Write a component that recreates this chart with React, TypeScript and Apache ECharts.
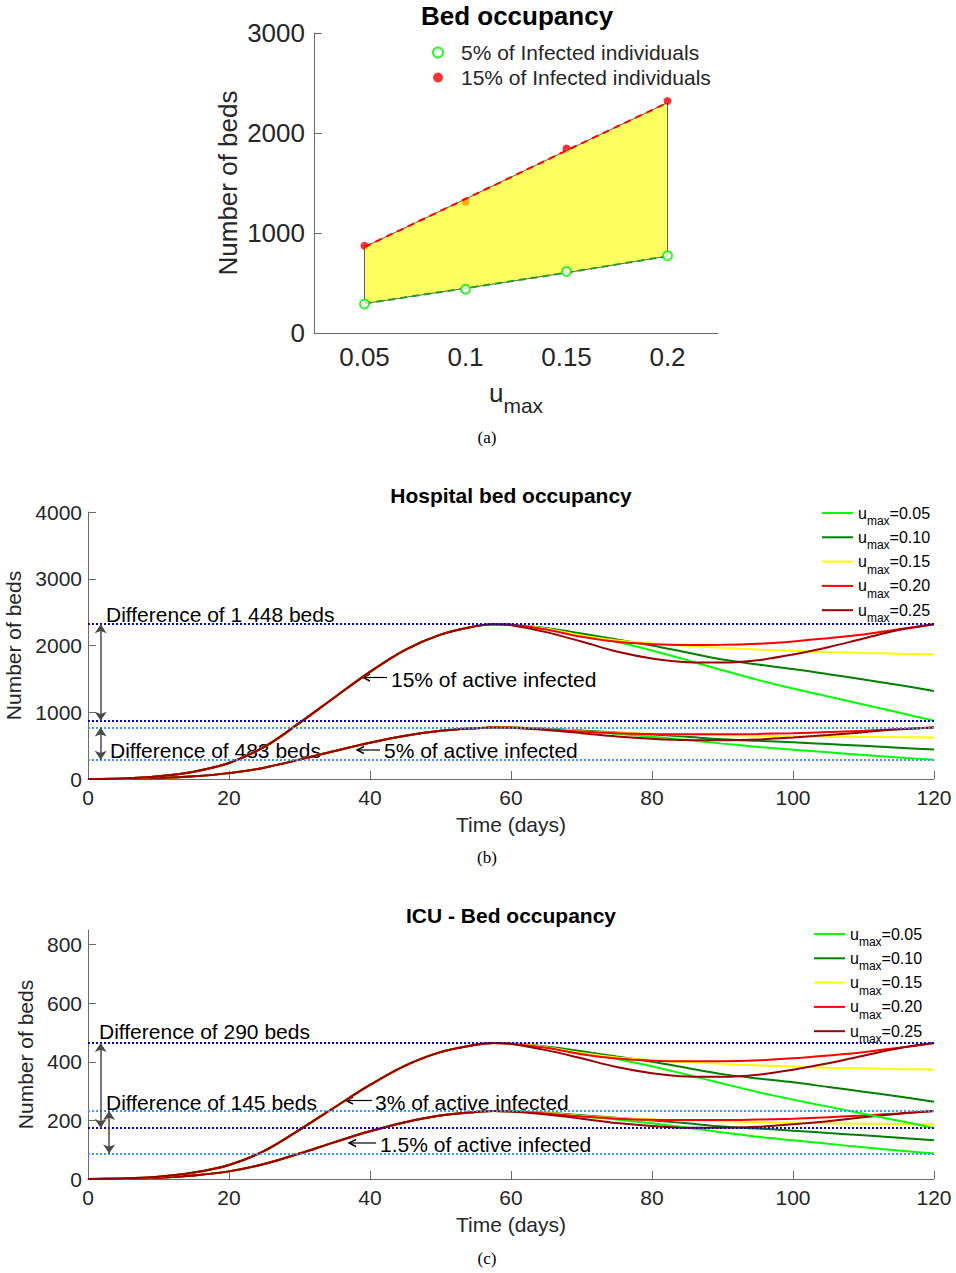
import React, { useEffect, useRef } from "react";
import * as echarts from "echarts";

const FONT = "Liberation Sans, Arial, Helvetica, sans-serif";
const SERIF = "Liberation Serif, DejaVu Serif, Times New Roman, serif";

// ---------- Panel (a): bed occupancy vs u_max ----------
const umaxValues = [0.05, 0.1, 0.15, 0.2];
const beds5Pct = [290, 437, 615, 773];
const beds15Pct = [872, 1311, 1845, 2320];
const fitUpper15 = [860, 1340, 1825, 2303];
const fitLower5 = [295, 447, 603, 768];
const umaxTicks = [0.05, 0.1, 0.15, 0.2];

// ---------- Panels (b) and (c): time courses ----------
const days = [0, 5, 10, 15, 20, 25, 30, 35, 40, 45, 50, 55, 57.5, 60, 65, 70, 75, 80, 85, 90, 95, 100, 105, 110, 115, 120];
const umaxNames = ["u_max=0.05", "u_max=0.10", "u_max=0.15", "u_max=0.20", "u_max=0.25"];
const umaxColors = ["#00ff00", "#007f00", "#ffff00", "#ff0000", "#990000"];

// shared rising part (t = 0 .. 57.5)
const hospRise15 = [0, 8, 40, 110, 240, 480, 840, 1225, 1605, 1935, 2163, 2290, 2320];
const hospRise5 = [0, 3, 14, 40, 88, 170, 290, 420, 543, 648, 722, 762, 773];
const icuRise3 = [0, 2, 8, 22, 48, 96, 168, 245, 321, 387, 433, 458, 464];
const icuRise15 = [0, 1, 4, 12, 26, 51, 87, 126, 163, 194, 217, 229, 232];

// tails (t = 60 .. 120), one per u_max
const hosp15Tail005 = [2312, 2252, 2168, 2055, 1925, 1780, 1630, 1485, 1355, 1235, 1115, 995, 872];
const hosp15Tail010 = [2314, 2262, 2180, 2090, 2000, 1895, 1790, 1715, 1648, 1570, 1490, 1408, 1320];
const hosp15Tail015 = [2314, 2250, 2150, 2075, 2030, 1995, 1965, 1940, 1920, 1902, 1888, 1877, 1868];
const hosp15Tail020 = [2312, 2240, 2130, 2055, 2020, 2008, 2010, 2025, 2060, 2110, 2165, 2242, 2320];
const hosp15Tail025 = [2305, 2200, 2060, 1910, 1805, 1750, 1745, 1780, 1865, 1975, 2105, 2232, 2320];

const hosp5Tail005 = [771, 748, 718, 677, 633, 583, 530, 480, 440, 400, 360, 322, 290];
const hosp5Tail010 = [771, 754, 727, 697, 667, 632, 597, 572, 549, 523, 497, 469, 442];
const hosp5Tail015 = [771, 750, 717, 692, 677, 665, 655, 647, 640, 634, 629, 626, 622];
const hosp5Tail020 = [771, 747, 710, 685, 673, 669, 670, 675, 687, 703, 722, 747, 773];
const hosp5Tail025 = [768, 733, 687, 637, 602, 583, 582, 593, 622, 658, 702, 744, 773];

const icu3Tail005 = [462, 450, 433, 410, 385, 356, 326, 297, 271, 247, 223, 199, 174];
const icu3Tail010 = [463, 452, 436, 418, 400, 379, 358, 343, 330, 314, 298, 282, 264];
const icu3Tail015 = [463, 450, 430, 415, 406, 399, 393, 388, 384, 380, 378, 375, 374];
const icu3Tail020 = [462, 448, 426, 411, 404, 402, 402, 405, 412, 422, 433, 448, 464];
const icu3Tail025 = [461, 440, 412, 382, 361, 350, 349, 356, 373, 395, 421, 446, 464];

const icu15Tail005 = [231, 224, 215, 203, 190, 175, 159, 144, 132, 120, 108, 97, 87];
const icu15Tail010 = [231, 226, 218, 209, 200, 190, 179, 172, 165, 157, 149, 141, 132];
const icu15Tail015 = [231, 225, 215, 208, 203, 200, 197, 194, 192, 190, 189, 188, 187];
const icu15Tail020 = [231, 224, 213, 206, 202, 201, 201, 203, 206, 211, 217, 224, 232];
const icu15Tail025 = [230, 220, 206, 191, 181, 175, 175, 178, 187, 197, 211, 223, 232];

// reference levels (max / min over u_max)
const hospBounds15 = [2320, 872];
const hospBounds5 = [773, 290];
const icuBounds3 = [464, 174];
const icuBounds15 = [232, 87];

const hospTicks = [0, 1000, 2000, 3000, 4000];
const icuTicks = [0, 200, 400, 600, 800];
const dayTicks = [0, 20, 40, 60, 80, 100, 120];

const AXIS_COLOR = "#6b6b6b";
const LABEL_COLOR = "#262626";

function curveData(rise: number[], tail: number[]) {
  const vals = rise.concat(tail);
  return days.map((d, i) => [d, vals[i]]);
}

function curveSeries(gridIdx: number, rise: number[], tails: number[][]) {
  return tails.map((tail, k) => ({
    type: "line",
    name: umaxNames[k],
    xAxisIndex: gridIdx,
    yAxisIndex: gridIdx,
    data: curveData(rise, tail),
    showSymbol: false,
    symbol: "none",
    smooth: 0.35,
    color: umaxColors[k],
    lineStyle: { color: umaxColors[k], width: 2 },
    z: 3,
  }));
}

function boundsMarkLine(upper: number[], lower: number[], arrowX: number[]) {
  const dark = { color: "#0000cc", width: 2, type: [2, 2] };
  const light = { color: "#3399ff", width: 2, type: [2, 2] };
  const arrow = { color: "#4a4a4a", width: 1.5, type: "solid" };
  return {
    silent: true,
    symbol: "none",
    label: { show: false },
    emphasis: { disabled: true },
    data: [
      { yAxis: upper[0], lineStyle: dark },
      { yAxis: upper[1], lineStyle: dark },
      { yAxis: lower[0], lineStyle: light },
      { yAxis: lower[1], lineStyle: light },
      [
        { coord: [arrowX[0], upper[0]], symbol: "arrow", symbolSize: 9, lineStyle: arrow, itemStyle: { color: "#000" } },
        { coord: [arrowX[0], upper[1]], symbol: "arrow", symbolSize: 9, lineStyle: arrow, itemStyle: { color: "#000" } },
      ],
      [
        { coord: [arrowX[1], lower[0]], symbol: "arrow", symbolSize: 9, lineStyle: arrow, itemStyle: { color: "#000" } },
        { coord: [arrowX[1], lower[1]], symbol: "arrow", symbolSize: 9, lineStyle: arrow, itemStyle: { color: "#000" } },
      ],
    ],
  };
}

const legendRich = {
  u: { fontSize: 16, lineHeight: 24, color: "#000", fontFamily: FONT },
  s: { fontSize: 12, lineHeight: 24, padding: [16, 0, 0, 0], color: "#000", fontFamily: FONT },
};

function txt(text: string, x: number, y: number, size: number, opts: any = {}) {
  return {
    type: "text",
    x,
    y,
    silent: true,
    style: {
      text,
      fill: opts.fill || "#000",
      font: `${opts.bold ? "bold " : ""}${size}px ${opts.family || FONT}`,
      align: opts.align || "left",
      verticalAlign: "middle",
    },
  };
}

function leftArrow(x1: number, x2: number, y: number) {
  return [
    { type: "line", silent: true, shape: { x1, y1: y, x2, y2: y }, style: { stroke: "#000", lineWidth: 1.2 } },
    {
      type: "polyline",
      silent: true,
      shape: { points: [[x1 + 7, y - 3.5], [x1, y], [x1 + 7, y + 3.5]] },
      style: { stroke: "#000", lineWidth: 1.4, fill: null },
    },
  ];
}

const plain = (v: number) => String(v);

function valueAxisBase(fontSize: number) {
  return {
    type: "value",
    axisLine: { show: true, onZero: false, lineStyle: { color: AXIS_COLOR, width: 1 } },
    axisTick: { show: true, inside: true, length: 8, lineStyle: { color: AXIS_COLOR, width: 1 } },
    axisLabel: { color: LABEL_COLOR, fontSize, fontFamily: FONT, formatter: plain },
    splitLine: { show: false },
    nameTextStyle: { color: LABEL_COLOR, fontSize, fontFamily: FONT },
  };
}

export default function App() {
  const ref = useRef<HTMLDivElement>(null);

  useEffect(() => {
    document.body.style.margin = "0";
    if (!ref.current) return;
    const chart = echarts.init(ref.current, null, { renderer: "svg" });

    const baseA = valueAxisBase(26);
    const baseB = valueAxisBase(21);
    const gridCommon = { containLabel: false, outerBoundsMode: "none" };

    const option: any = {
      animation: false,
      backgroundColor: "#ffffff",
      textStyle: { fontFamily: FONT },
      grid: [
        { ...gridCommon, left: 314, top: 33, width: 404, height: 300 },
        { ...gridCommon, left: 88, top: 512, width: 846, height: 267 },
        { ...gridCommon, left: 88, top: 930, width: 846, height: 249 },
      ],
      xAxis: [
        {
          ...baseA,
          gridIndex: 0,
          min: 0.025,
          max: 0.225,
          axisTick: { show: false },
          axisLabel: {
            ...baseA.axisLabel,
            margin: 11,
            customValues: umaxTicks,
          },
          name: "{u|u}{s|max}",
          nameLocation: "middle",
          nameGap: 43,
          nameTextStyle: {
            rich: {
              u: { fontSize: 26, lineHeight: 30, color: LABEL_COLOR, fontFamily: FONT },
              s: { fontSize: 21, lineHeight: 30, padding: [24, 0, 0, 0], color: LABEL_COLOR, fontFamily: FONT },
            },
          },
        },
        {
          ...baseB,
          gridIndex: 1,
          min: 0,
          max: 120,
          axisLabel: { ...baseB.axisLabel, margin: 8, customValues: dayTicks },
          axisTick: { ...baseB.axisTick, customValues: dayTicks },
          name: "Time (days)",
          nameLocation: "middle",
          nameGap: 35,
        },
        {
          ...baseB,
          gridIndex: 2,
          min: 0,
          max: 120,
          axisLabel: { ...baseB.axisLabel, margin: 8, customValues: dayTicks },
          axisTick: { ...baseB.axisTick, customValues: dayTicks },
          name: "Time (days)",
          nameLocation: "middle",
          nameGap: 35,
        },
      ],
      yAxis: [
        {
          ...baseA,
          gridIndex: 0,
          min: 0,
          max: 3000,
          interval: 1000,
          axisLabel: { ...baseA.axisLabel, margin: 9 },
          name: "Number of beds",
          nameLocation: "middle",
          nameGap: 73,
        },
        {
          ...baseB,
          gridIndex: 1,
          min: 0,
          max: 4000,
          axisLabel: { ...baseB.axisLabel, margin: 6, customValues: hospTicks },
          axisTick: { ...baseB.axisTick, customValues: hospTicks },
          name: "Number of beds",
          nameLocation: "middle",
          nameGap: 60,
        },
        {
          ...baseB,
          gridIndex: 2,
          min: 0,
          max: 850,
          axisLabel: { ...baseB.axisLabel, margin: 6, customValues: icuTicks },
          axisTick: { ...baseB.axisTick, customValues: icuTicks },
          name: "Number of beds",
          nameLocation: "middle",
          nameGap: 48,
        },
      ],
      legend: [
        {
          data: ["5% of Infected individuals", "15% of Infected individuals"],
          orient: "vertical",
          left: 427,
          top: 37,
          itemWidth: 36,
          itemHeight: 10,
          itemGap: 4,
          selectedMode: false,
          textStyle: { fontSize: 21, lineHeight: 21, color: LABEL_COLOR, fontFamily: FONT },
        },
        {
          data: umaxNames,
          orient: "vertical",
          left: 817,
          top: 494,
          icon: "rect",
          itemWidth: 31,
          itemHeight: 2,
          itemGap: -3.7,
          selectedMode: false,
          formatter: (name: string) => `{u|u}{s|max}{u|=${name.split("=")[1]}}`,
          textStyle: { rich: legendRich },
        },
        {
          data: umaxNames,
          orient: "vertical",
          left: 809,
          top: 915,
          icon: "rect",
          itemWidth: 31,
          itemHeight: 2,
          itemGap: -3.7,
          selectedMode: false,
          formatter: (name: string) => `{u|u}{s|max}{u|=${name.split("=")[1]}}`,
          textStyle: { rich: legendRich },
        },
      ],
      series: [
        // ---- panel (a)
        {
          type: "scatter",
          name: "15% of Infected individuals",
          xAxisIndex: 0,
          yAxisIndex: 0,
          data: umaxValues.map((u, i) => [u, beds15Pct[i]]),
          symbol: "circle",
          symbolSize: 8,
          color: "#ff0000",
          itemStyle: { color: "#ff0000" },
          z: 2,
        },
        {
          type: "custom",
          name: "range",
          xAxisIndex: 0,
          yAxisIndex: 0,
          silent: true,
          z: 3,
          data: umaxValues.map((u, i) => [u, fitUpper15[i], fitLower5[i]]),
          encode: { x: 0, y: [1, 2] },
          renderItem: (params: any, api: any) => {
            if (params.dataIndex !== 0) return null;
            const top = umaxValues.map((u, i) => api.coord([u, fitUpper15[i]]));
            const bottom = umaxValues.map((u, i) => api.coord([u, fitLower5[i]])).reverse();
            return {
              type: "polygon",
              shape: { points: top.concat(bottom) },
              style: { fill: "rgba(255,255,0,0.62)", stroke: "#3a3a3a", lineWidth: 0.8 },
            };
          },
        },
        {
          type: "line",
          name: "fit15",
          xAxisIndex: 0,
          yAxisIndex: 0,
          data: umaxValues.map((u, i) => [u, fitUpper15[i]]),
          showSymbol: false,
          symbol: "none",
          lineStyle: { color: "#ff0000", width: 2, type: [7, 5] },
          z: 4,
        },
        {
          type: "line",
          name: "fit5",
          xAxisIndex: 0,
          yAxisIndex: 0,
          data: umaxValues.map((u, i) => [u, fitLower5[i]]),
          showSymbol: false,
          symbol: "none",
          lineStyle: { color: "#22a022", width: 2, type: [7, 5] },
          z: 4,
        },
        {
          type: "scatter",
          name: "5% of Infected individuals",
          xAxisIndex: 0,
          yAxisIndex: 0,
          data: umaxValues.map((u, i) => [u, beds5Pct[i]]),
          symbol: "emptyCircle",
          symbolSize: 9,
          color: "#00ee00",
          itemStyle: { color: "#00ee00", borderColor: "#00ee00", borderWidth: 2.2 },
          z: 5,
        },
        // ---- panel (b)
        ...curveSeries(1, hospRise5, [hosp5Tail005, hosp5Tail010, hosp5Tail015, hosp5Tail020, hosp5Tail025]),
        ...curveSeries(1, hospRise15, [hosp15Tail005, hosp15Tail010, hosp15Tail015, hosp15Tail020, hosp15Tail025]).map(
          (s: any, k: number) => (k === 4 ? { ...s, markLine: boundsMarkLine(hospBounds15, hospBounds5, [1.8, 1.8]) } : s)
        ),
        // ---- panel (c)
        ...curveSeries(2, icuRise15, [icu15Tail005, icu15Tail010, icu15Tail015, icu15Tail020, icu15Tail025]),
        ...curveSeries(2, icuRise3, [icu3Tail005, icu3Tail010, icu3Tail015, icu3Tail020, icu3Tail025]).map(
          (s: any, k: number) => (k === 4 ? { ...s, markLine: boundsMarkLine(icuBounds3, icuBounds15, [1.8, 3.0]) } : s)
        ),
      ],
      graphic: [
        txt("Bed occupancy", 517, 16, 26, { bold: true, align: "center" }),
        txt("(a)", 487, 437, 17, { family: SERIF, align: "center" }),
        txt("Hospital bed occupancy", 511, 495, 21, { bold: true, align: "center" }),
        txt("(b)", 487, 857, 17, { family: SERIF, align: "center" }),
        txt("ICU - Bed occupancy", 511, 915, 21, { bold: true, align: "center" }),
        txt("(c)", 487, 1258, 17, { family: SERIF, align: "center" }),
        // panel (b) annotations
        txt("Difference of 1 448 beds", 106, 614, 21),
        txt("Difference of 483 beds", 110, 750, 21),
        txt("15% of active infected", 391, 679, 21),
        txt("5% of active infected", 384, 750, 21),
        ...leftArrow(363, 387, 677.5),
        ...leftArrow(357, 380, 750),
        // panel (c) annotations
        txt("Difference of 290 beds", 99, 1031, 21),
        txt("Difference of 145 beds", 106, 1102, 21),
        txt("3% of active infected", 375, 1102, 21),
        txt("1.5% of active infected", 380, 1144, 21),
        ...leftArrow(346, 372, 1100.5),
        ...leftArrow(349, 376, 1143),
      ],
    };

    chart.setOption(option);
    return () => chart.dispose();
  }, []);

  return <div ref={ref} style={{ width: 956, height: 1273 }} />;
}
